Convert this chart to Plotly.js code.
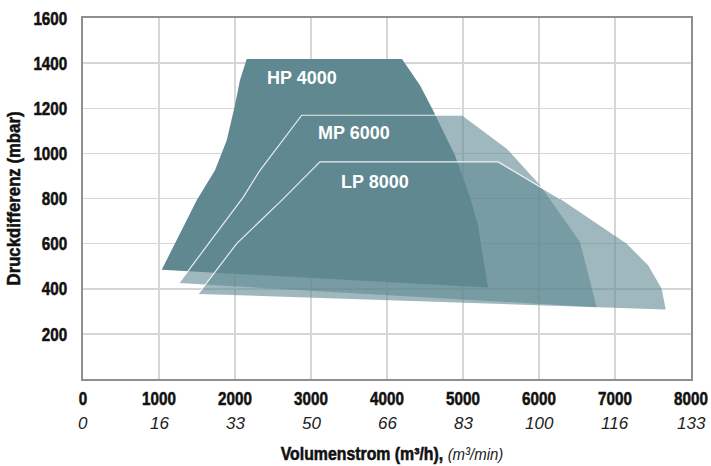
<!DOCTYPE html>
<html><head><meta charset="utf-8">
<script src="https://cdn.plot.ly/plotly-3.0.1.min.js"></script>
<style>
html,body{margin:0;padding:0;background:#fff}
.xtick text, .ytick text, .xtitle, .ytitle {stroke:#111; stroke-width:0.55px;}
</style>
</head><body><div id="chart" style="width:711px;height:466px"></div>
<script>
// ---- data ----
const seriesNames = ['LP 8000', 'MP 6000', 'HP 4000'];

// polygons: from bottom-left corner, up the left edge, along the top, down the right edge
const lpX = [1517, 2022, 2614, 3118, 5464, 6276, 7154, 7438, 7614, 7667];
const lpY = [377, 600, 792, 962, 962, 799, 600, 503, 400, 308];

const mpX = [1263, 1776, 2109, 2329, 2789, 2878, 4983, 5575, 6013, 6539, 6759];
const mpY = [425, 659, 806, 925, 1132, 1169, 1169, 1021, 859, 607, 318];

const hpX = [1036, 1496, 1737, 1891, 2000, 2066, 2154, 4197, 4434, 4605, 4895, 5092, 5197, 5276, 5329];
const hpY = [484, 792, 925, 1058, 1214, 1325, 1418, 1418, 1302, 1191, 991, 805, 681, 526, 405];

// label anchor points (data units)
const labelX = [3842, 3566, 2882];
const labelY = [873, 1091, 1333];

const xTicks = [0, 1000, 2000, 3000, 4000, 5000, 6000, 7000, 8000];
const xTicksMin = ['0', '16', '33', '50', '66', '83', '100', '116', '133'];
const yTicks = [200, 400, 600, 800, 1000, 1200, 1400, 1600];

// ---- styling ----
const BASE = '#5f8891';
const TRANS = 'rgba(95,136,145,0.6)';
const BOLDF = "'Liberation Sans', Arial, sans-serif";
const REG = "'Liberation Sans', Arial, sans-serif";

const polys = [
  {x: lpX, y: lpY, fill: TRANS, edge: 6},
  {x: mpX, y: mpY, fill: TRANS, edge: 7},
  {x: hpX, y: hpY, fill: BASE, edge: 0}
];

const traces = [];
polys.forEach((p, i) => {
  traces.push({
    type: 'scatter', mode: 'lines', x: p.x, y: p.y, fill: 'toself',
    fillcolor: p.fill, line: {width: 0, color: p.fill}, hoverinfo: 'skip', name: seriesNames[i]
  });
});
polys.forEach((p, i) => {
  if (p.edge > 0) {
    traces.push({
      type: 'scatter', mode: 'lines', x: p.x.slice(0, p.edge), y: p.y.slice(0, p.edge),
      line: {width: 1.2, color: 'rgba(255,255,255,0.85)'}, hoverinfo: 'skip', showlegend: false
    });
  }
});

const annotations = seriesNames.map((n, i) => ({
  x: labelX[i], y: labelY[i], xref: 'x', yref: 'y', text: n, showarrow: false,
  font: {family: REG, size: 18, color: '#ffffff', weight: 'bold'}
}));
xTicks.forEach((v, i) => {
  annotations.push({
    x: v, y: -0.122, xref: 'x', yref: 'paper', yanchor: 'middle', text: '<i>' + xTicksMin[i] + '</i>',
    showarrow: false, font: {family: REG, size: 17, color: '#222222'}
  });
});

const axisCommon = {
  showgrid: true, gridcolor: '#d6d6d6', gridwidth: 1.5,
  showline: true, mirror: true, linecolor: '#8f8f8f', linewidth: 2,
  zeroline: false, ticks: '', fixedrange: true
};

const layout = {
  width: 711, height: 466,
  margin: {l: 83, r: 20, t: 18, b: 87},
  paper_bgcolor: '#ffffff', plot_bgcolor: '#ffffff',
  showlegend: false,
  xaxis: Object.assign({}, axisCommon, {
    range: [0, 8000], tickmode: 'array', tickvals: xTicks, ticktext: xTicks.map(String),
    tickfont: {family: BOLDF, size: 19, color: '#111111', weight: 'bold'},
    ticklabelstandoff: 1, ticklabeloverflow: 'allow',
    title: {
      text: 'Volumenstrom (m³/h), <span style="font-weight:normal;font-style:italic;font-size:17px;stroke-width:0;fill:#222">(m³/min)</span>',
      font: {family: BOLDF, size: 18, color: '#111111', weight: 'bold'}, standoff: 40
    }
  }),
  yaxis: Object.assign({}, axisCommon, {
    range: [0, 1600], tickmode: 'array', tickvals: yTicks, ticktext: yTicks.map(String),
    tickfont: {family: BOLDF, size: 19, color: '#111111', weight: 'bold'},
    ticklabelstandoff: 10,
    title: {text: 'Druckdifferenz (mbar)', font: {family: BOLDF, size: 18, color: '#111111', weight: 'bold'}, standoff: 0}
  }),
  annotations: annotations
};

// horizontally condense a text element while keeping its anchor point
function condense(el, f, dx) {
  const w = el.getComputedTextLength();
  const anchor = el.getAttribute('text-anchor') || getComputedStyle(el).textAnchor || 'start';
  const x = parseFloat(el.getAttribute('x')) || 0;
  const nw = w * f;
  let nx = x;
  if (anchor === 'middle') nx = x - nw / 2;
  else if (anchor === 'end') nx = x - nw;
  el.setAttribute('text-anchor', 'start');
  el.setAttribute('x', (nx + (dx || 0)).toFixed(2));
  el.setAttribute('textLength', nw.toFixed(2));
  el.setAttribute('lengthAdjust', 'spacingAndGlyphs');
}

const gd = document.getElementById('chart');
Plotly.newPlot(gd, traces, layout, {displayModeBar: false, staticPlot: true}).then(() => {
  gd.querySelectorAll('.xtick text, .ytick text').forEach(t => condense(t, 0.8));
  gd.querySelectorAll('.ytitle').forEach(t => condense(t, 0.93));
  gd.querySelectorAll('.xtitle').forEach(t => condense(t, 0.88, 5));
});
</script>
</body></html>
